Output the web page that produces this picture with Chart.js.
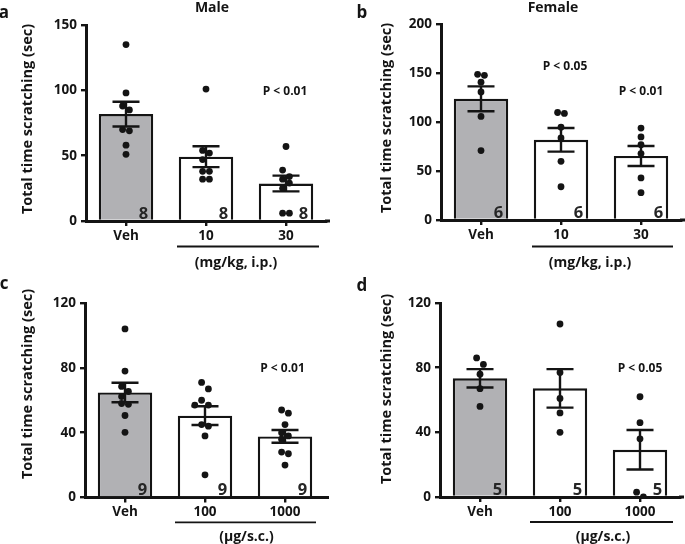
<!DOCTYPE html>
<html><head><meta charset="utf-8">
<script src="https://cdn.jsdelivr.net/npm/chart.js@4.4.1/dist/chart.umd.min.js"></script>
<style>
html,body{margin:0;padding:0;background:#fff;}
#wrap{position:relative;width:685px;height:544px;overflow:hidden;}
#wrap canvas{position:absolute;left:0;top:0;}
</style></head><body><div id="wrap">
<canvas id="ca" width="685" height="544"></canvas>
<canvas id="cb" width="685" height="544"></canvas>
<canvas id="cc" width="685" height="544"></canvas>
<canvas id="cd" width="685" height="544"></canvas>
</div>
<script>
// ---------------- data ----------------
const categoriesIP = ['Veh', '10', '30'];
const categoriesSC = ['Veh', '100', '1000'];

const maleMeans = [81.8, 49.2, 28.7];
const maleSEM = [9.5, 8.0, 6.0];
const malePoints = [[135, 98, 88, 85, 70, 69, 58, 51], [101, 54, 52, 47, 38, 38, 32, 32], [57, 39, 34, 32, 29, 25, 6, 6]];
const maleN = [8, 8, 8];

const femaleMeans = [124, 82, 65.5];
const femaleSEM = [12.7, 12.1, 10.2];
const femalePoints = [[149, 148, 141, 131, 106, 71], [110, 109, 95, 84, 60, 34], [94, 85, 77, 68, 43, 28]];
const femaleN = [6, 6, 6];

const scMeansC = [64.8, 50.5, 37.7];
const scSEMC = [6.0, 5.8, 3.9];
const scPointsC = [[104, 78, 68.5, 65.4, 62.3, 58, 57.5, 50.6, 40.2], [71, 67, 60, 57, 57, 45, 44, 38, 14], [54, 52, 45, 40, 38, 36, 28, 27, 20]];
const scNC = [9, 9, 9];

const scMeansD = [73.4, 67.2, 29.2];
const scSEMD = [5.7, 11.9, 12.2];
const scPointsD = [[86, 82, 76, 67, 56], [107, 77, 61, 52, 40], [62, 46, 36, 3, 0]];
const scND = [5, 5, 5];

const yMaxA = 150, yStepA = 50;
const yMaxB = 200, yStepB = 50;
const yMaxC = 120, yStepC = 40;
const yMaxD = 120, yStepD = 40;

const pLabelsA = ['P < 0.01'];
const pLabelsB = ['P < 0.05', 'P < 0.01'];
const pLabelsC = ['P < 0.01'];
const pLabelsD = ['P < 0.05'];

// ---------------- style / layout ----------------
Chart.defaults.font.family = "'Open Sans', sans-serif";
Chart.defaults.color = '#1a1a1a';
const INK = '#141414';
const GRAY = '#b1b1b4';
const W = 685, H = 544;

function beeswarm(values, pxPerUnit) {
  const D = 6.4, half = 3.4;
  const idx = values.map((v, i) => i).sort((a, b) => values[b] - values[a]);
  const offs = new Array(values.length).fill(0);
  const clusters = []; let cur = [];
  idx.forEach((i, k) => {
    if (k > 0 && (values[idx[k - 1]] - values[i]) * pxPerUnit < 6.8) cur.push(i);
    else { if (cur.length) clusters.push(cur); cur = [i]; }
  });
  if (cur.length) clusters.push(cur);
  clusters.forEach(cl => {
    if (cl.length === 1) return;
    const placed = []; let prefer = -1;
    cl.forEach(i => {
      const y = values[i] * pxPerUnit;
      const cands = [];
      for (let m = 1; m <= 7; m += 2) cands.push(prefer * m * half, -prefer * m * half);
      let c = cands.find(x => placed.every(p => Math.hypot(p.x - x, p.y - y) >= D));
      if (c === undefined) c = 0;
      placed.push({x: c, y});
      offs[i] = c;
      prefer = c < 0 ? 1 : -1;
    });
  });
  return offs;
}

const panels = [
  {canvas: 'ca', cats: categoriesIP, means: maleMeans, sem: maleSEM, points: malePoints, n: maleN,
   yMax: yMaxA, yStep: yStepA, area: {L: 86, T: 25, R: 326, B: 221},
   letter: {t: 'a', x: 4, y: 13}, title: {t: 'Male', x: 212, y: 8}, ytitle: {x: 28, y: 119},
   ps: [{t: pLabelsA[0], x: 285, y: 92}],
   bracket: {x1: 177, x2: 319, y: 246.5}, unit: {t: '(mg/kg, i.p.)', x: 236, y: 263.5}},
  {canvas: 'cb', cats: categoriesIP, means: femaleMeans, sem: femaleSEM, points: femalePoints, n: femaleN,
   yMax: yMaxB, yStep: yStepB, area: {L: 441, T: 24.5, R: 681, B: 220},
   letter: {t: 'b', x: 362, y: 13}, title: {t: 'Female', x: 553, y: 8}, ytitle: {x: 387, y: 118},
   ps: [{t: pLabelsB[0], x: 565, y: 67}, {t: pLabelsB[1], x: 641, y: 92}],
   bracket: {x1: 532, x2: 673, y: 246.5}, unit: {t: '(mg/kg, i.p.)', x: 590, y: 263.5}},
  {canvas: 'cc', cats: categoriesSC, means: scMeansC, sem: scSEMC, points: scPointsC, n: scNC,
   yMax: yMaxC, yStep: yStepC, area: {L: 85, T: 303, R: 325, B: 497.5},
   letter: {t: 'c', x: 4, y: 284}, title: null, ytitle: {x: 28, y: 384},
   ps: [{t: pLabelsC[0], x: 282.5, y: 368.5}],
   bracket: {x1: 175, x2: 316, y: 522.3}, unit: {t: '(\u00b5g/s.c.)', x: 246.5, y: 537}},
  {canvas: 'cd', cats: categoriesSC, means: scMeansD, sem: scSEMD, points: scPointsD, n: scND,
   yMax: yMaxD, yStep: yStepD, area: {L: 440, T: 303, R: 680, B: 497},
   letter: {t: 'd', x: 362, y: 286}, title: null, ytitle: {x: 387, y: 389},
   ps: [{t: pLabelsD[0], x: 640, y: 369}],
   bracket: {x1: 530, x2: 673, y: 522}, unit: {t: '(\u00b5g/s.c.)', x: 603, y: 537}}
];

function txt(ctx, t, x, y, font, align, base, color) {
  ctx.save();
  ctx.font = font; ctx.fillStyle = color || INK;
  ctx.textAlign = align || 'center'; ctx.textBaseline = base || 'middle';
  ctx.fillText(t, x, y);
  ctx.restore();
}

const decor = {
  id: 'decor',
  afterDatasetsDraw(chart, args, opts) {
    const p = opts.panel; const ctx = chart.ctx;
    const xs = chart.scales.x, ys = chart.scales.y;
    const ca = chart.chartArea;
    ctx.save();
    ctx.strokeStyle = INK; ctx.lineWidth = 3;
    ctx.beginPath(); ctx.moveTo(ca.right - 1, ca.bottom); ctx.lineTo(ca.right + 4, ca.bottom); ctx.stroke();
    ctx.restore();
    const bars = chart.getDatasetMeta(0).data;
    ctx.save();
    ctx.strokeStyle = INK; ctx.lineWidth = 2.4; ctx.lineCap = 'butt';
    p.means.forEach((m, i) => {
      const x = xs.getPixelForValue(i);
      const yt = ys.getPixelForValue(m + p.sem[i]);
      const yb = ys.getPixelForValue(Math.max(0, m - p.sem[i]));
      ctx.beginPath();
      ctx.moveTo(x, yt); ctx.lineTo(x, yb);
      ctx.moveTo(x - 13.5, yt); ctx.lineTo(x + 13.5, yt);
      ctx.moveTo(x - 13.5, yb); ctx.lineTo(x + 13.5, yb);
      ctx.stroke();
    });
    ctx.restore();
    p.n.forEach((nv, i) => {
      const b = bars[i];
      txt(ctx, String(nv), b.x + b.width / 2 - 5, ca.bottom - 2.5, "bold 16.5px 'Open Sans'", 'right', 'alphabetic', '#262626');
    });
  },
  afterDraw(chart, args, opts) {
    const p = opts.panel; const ctx = chart.ctx;
    txt(ctx, p.letter.t, p.letter.x, p.letter.y, "bold 17px 'Open Sans'");
    if (p.title) txt(ctx, p.title.t, p.title.x, p.title.y, "bold 14px 'Open Sans'");
    ctx.save();
    ctx.translate(p.ytitle.x, p.ytitle.y); ctx.rotate(-Math.PI / 2);
    txt(ctx, 'Total time scratching (sec)', 0, 0, "bold 14.5px 'Open Sans'");
    ctx.restore();
    p.ps.forEach(q => txt(ctx, q.t, q.x, q.y, "bold 12px 'Open Sans'"));
    ctx.save();
    ctx.strokeStyle = INK; ctx.lineWidth = 1.8;
    ctx.beginPath(); ctx.moveTo(p.bracket.x1, p.bracket.y); ctx.lineTo(p.bracket.x2, p.bracket.y); ctx.stroke();
    ctx.restore();
    txt(ctx, p.unit.t, p.unit.x, p.unit.y, "bold 14px 'Open Sans'");
  }
};

panels.forEach(p => {
  const a = p.area;
  const catPx = (a.R - a.L) / 3;
  const pxPerUnit = (a.B - a.T) / p.yMax;
  const scatter = [];
  p.points.forEach((vals, g) => {
    const offs = beeswarm(vals, pxPerUnit);
    vals.forEach((v, k) => scatter.push({x: g + offs[k] / catPx, y: v}));
  });
  new Chart(document.getElementById(p.canvas), {
    type: 'bar',
    data: {
      labels: p.cats,
      datasets: [
        {type: 'bar', data: p.means, xAxisID: 'x', yAxisID: 'y', order: 2, grouped: false,
         backgroundColor: [GRAY, '#ffffff', '#ffffff'], borderColor: INK, borderWidth: 2.4,
         barPercentage: 0.68, categoryPercentage: 1},
        {type: 'scatter', data: scatter, xAxisID: 'x2', yAxisID: 'y', order: 1,
         pointRadius: 3.4, pointBackgroundColor: INK, pointBorderWidth: 0, showLine: false}
      ]
    },
    options: {
      responsive: false, animation: false, devicePixelRatio: 1,
      layout: {padding: {left: 0, top: a.T, right: W - a.R, bottom: 0}},
      plugins: {legend: {display: false}, tooltip: {enabled: false}, decor: {panel: p}},
      scales: {
        x: {type: 'category', offset: true, position: 'bottom',
            grid: {display: true, offset: false, drawOnChartArea: false, drawTicks: true, tickLength: 5, color: INK, lineWidth: 2.4},
            border: {display: true, color: INK, width: 3},
            ticks: {font: {weight: 'bold', size: 13.5}, color: INK, padding: 2, maxRotation: 0},
            afterFit(s) { s.height = H - a.B; }},
        x2: {type: 'linear', display: false, offset: false, grid: {offset: false}, min: -0.5, max: 2.5},
        y: {type: 'linear', min: 0, max: p.yMax, position: 'left',
            ticks: {stepSize: p.yStep, font: {weight: 'bold', size: 13.5}, color: INK, padding: 4},
            grid: {display: true, drawOnChartArea: false, drawTicks: true, tickLength: 5, color: INK, lineWidth: 2.4},
            border: {display: true, color: INK, width: 3},
            afterFit(s) { s.width = a.L; }}
      }
    },
    plugins: [decor]
  });
});
</script>
</body></html>
